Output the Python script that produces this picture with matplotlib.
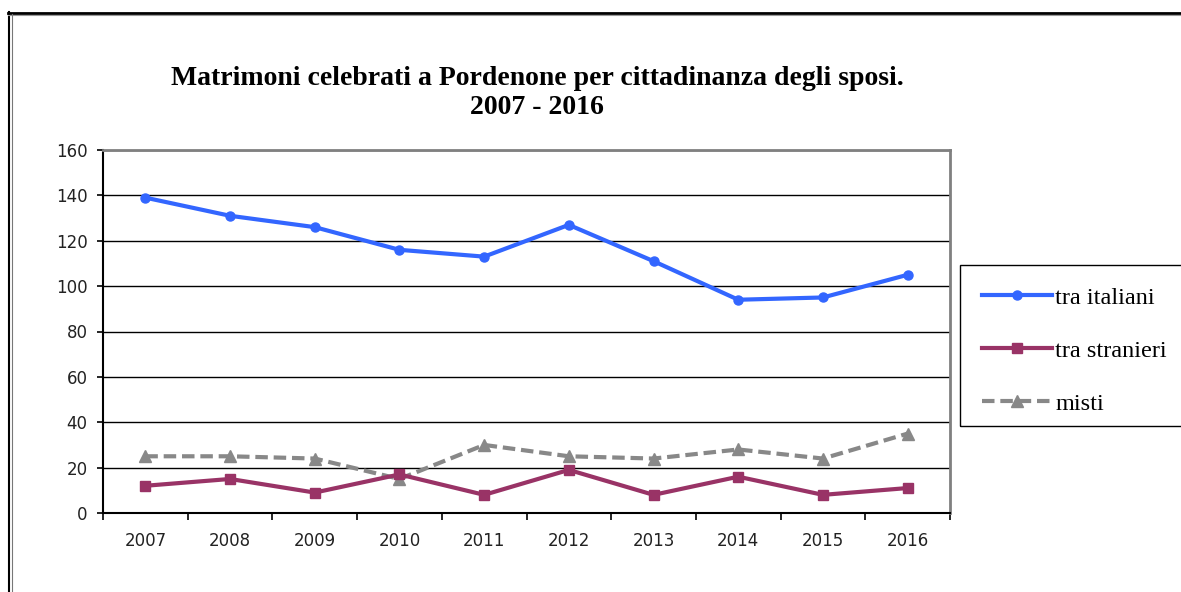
import matplotlib.pyplot as plt
from matplotlib.lines import Line2D
from matplotlib.patches import Rectangle

anni = ["2007", "2008", "2009", "2010", "2011", "2012", "2013", "2014", "2015", "2016"]
tra_italiani = [139, 131, 126, 116, 113, 127, 111, 94, 95, 105]
tra_stranieri = [12, 15, 9, 17, 8, 19, 8, 16, 8, 11]
misti = [25, 25, 24, 15, 30, 25, 24, 28, 24, 35]

W, H = 1181, 592
fig = plt.figure(figsize=(W / 100, H / 100), dpi=100)
ax = fig.add_axes([103 / W, 1 - 513 / H, (950 - 103) / W, (513 - 150) / H])

x = list(range(len(anni)))
ax.plot(x, tra_italiani, color="#3366ff", lw=3, marker="o", ms=6.5, label="tra italiani", zorder=4)
ax.plot(x, tra_stranieri, color="#993366", lw=3, marker="s", ms=6.5, label="tra stranieri", zorder=4)
ax.plot(x, misti, color="#888888", lw=3, ls=(0, (3, 1.4)), marker="^", ms=8.5,
        label="misti", zorder=3)

ax.set_xlim(-0.5, len(anni) - 0.5)
ax.set_ylim(0, 160)
ax.set_yticks(range(0, 161, 20))
ax.yaxis.grid(True, color="black", lw=1)
ax.set_axisbelow(True)

# categorie con tacche tra un anno e l'altro, stile Excel
ax.set_xticks([i - 0.5 for i in range(len(anni) + 1)])
ax.set_xticklabels([])
ax.set_xticks(x, minor=True)
ax.set_xticklabels(anni, minor=True)
ax.tick_params(axis="x", which="major", direction="out", length=5, width=1.2)
ax.tick_params(axis="x", which="minor", length=0, pad=14, labelsize=12, labelcolor="#222222")
ax.tick_params(axis="y", direction="out", length=4, width=1.2, labelsize=12, pad=7,
               labelcolor="#222222")

ax.spines["left"].set_linewidth(1.5)
ax.spines["bottom"].set_linewidth(1.5)
for s in ["top", "right"]:
    ax.spines[s].set_color("#808080")
    ax.spines[s].set_linewidth(2)

fig.text(537 / W, 1 - 93 / H,
         "Matrimoni celebrati a Pordenone per cittadinanza degli sposi.\n2007 - 2016",
         ha="center", va="center", fontsize=20, fontweight="bold",
         family="Liberation Serif", linespacing=1.25)

# cornice esterna del grafico (doppia linea a sinistra, linea spessa in alto)
fig.add_artist(Line2D([8.5 / W, 8.5 / W], [0, 1 - 12 / H], color="black", lw=1.5))
fig.add_artist(Line2D([8 / W, 1], [1 - 12.5 / H, 1 - 12.5 / H], color="black", lw=2))
fig.add_artist(Line2D([8 / W, 1], [1 - 14.5 / H, 1 - 14.5 / H], color="#999999", lw=0.8))
fig.add_artist(Line2D([11.5 / W, 11.5 / W], [0, 1 - 14 / H], color="#777777", lw=0.8))

# riquadro della legenda
fig.add_artist(Rectangle((960 / W, 1 - 426 / H), 240 / W, 161 / H,
                         transform=fig.transFigure, fill=False, ec="black", lw=1))
ax.legend(loc="upper left", bbox_to_anchor=(972 / W, 1 - 277 / H),
          bbox_transform=fig.transFigure, frameon=False,
          prop={"family": "Liberation Serif", "size": 17.5},
          handlelength=2.9, handletextpad=0.12, labelspacing=1.28, borderaxespad=0)

fig.savefig("out.png", dpi=100)
